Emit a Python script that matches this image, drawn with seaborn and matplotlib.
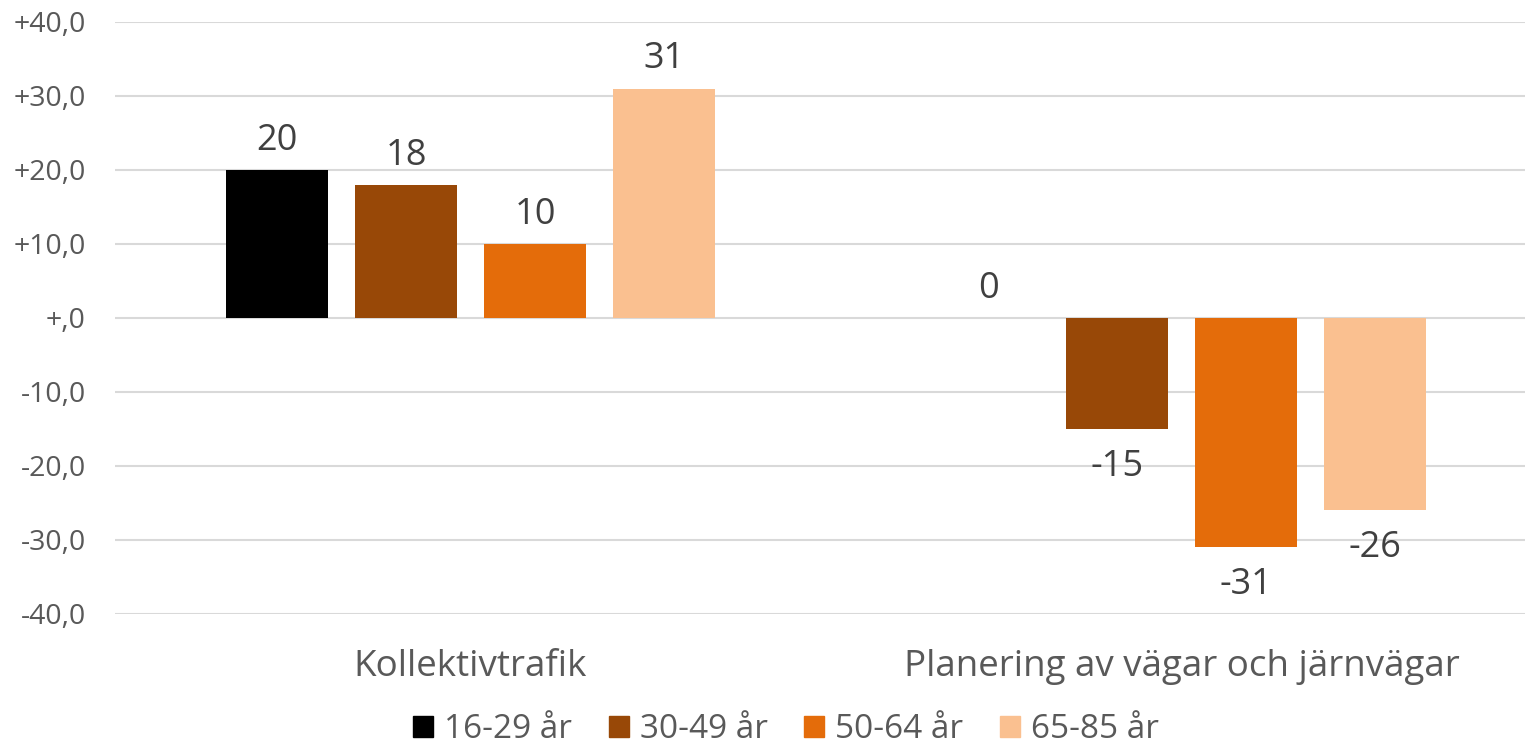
import matplotlib
matplotlib.use("Agg")
import matplotlib.pyplot as plt
import seaborn as sns
import pandas as pd

categories = ["Kollektivtrafik", "Planering av vägar och järnvägar"]
groups = ["16-29 år", "30-49 år", "50-64 år", "65-85 år"]
values_16_29 = [20, 0]
values_30_49 = [18, -15]
values_50_64 = [10, -31]
values_65_85 = [31, -26]
colors = ["#000000", "#984807", "#E46C0A", "#FAC090"]
yticks = [-40, -30, -20, -10, 0, 10, 20, 30, 40]

series = [values_16_29, values_30_49, values_50_64, values_65_85]
rows = []
for g, vals in zip(groups, series):
    for c, v in zip(categories, vals):
        rows.append({"Kategori": c, "Grupp": g, "Värde": v})
df = pd.DataFrame(rows)

sns.set_theme(style="white")
plt.rcParams["font.family"] = ["Open Sans", "DejaVu Sans"]

fig = plt.figure(figsize=(15.25, 7.47), dpi=100)
ax = fig.add_axes([115 / 1525, 1 - 614 / 747, 1422 / 1525, (614 - 22) / 747])

sns.barplot(data=df, x="Kategori", y="Värde", hue="Grupp", hue_order=groups,
            palette=colors, width=0.7257, gap=0.2093, saturation=1, ax=ax,
            legend=False, errorbar=None, linewidth=0)

ax.set_ylim(-40, 40)
ax.set_yticks(yticks)
def fmt(v):
    if v == 0:
        return "+,0"
    return f"{v:+.1f}".replace(".", ",")
ax.set_yticklabels([fmt(v) for v in yticks])
ax.yaxis.grid(True, color="#d9d9d9", linewidth=1.5)
ax.set_axisbelow(True)
for s in ax.spines.values():
    s.set_visible(False)
ax.tick_params(axis="y", length=0, pad=21, labelsize=20.5, labelcolor="#595959")
ax.tick_params(axis="x", length=0, pad=25, labelsize=26.5, labelcolor="#595959")
ax.set_xlabel("")
ax.set_ylabel("")

for cont in ax.containers:
    texts = ax.bar_label(cont, fmt="%.0f", padding=24, fontsize=26, color="#404040")
    for t in texts:
        t.set_verticalalignment("center")
        x0, y0 = t.xyann
        t.xyann = (x0, y0 - 3)

handles = [plt.Rectangle((0, 0), 1, 1, color=c) for c in colors]
fig.legend(handles, groups, loc="center", bbox_to_anchor=(786 / 1525, 1 - 730 / 747),
           ncol=4, frameon=False, handlelength=0.6, handleheight=0.6,
           handletextpad=0.33, columnspacing=1.1, fontsize=24,
           borderpad=0.1, labelcolor="#595959")

fig.savefig("out.png", dpi=100)
